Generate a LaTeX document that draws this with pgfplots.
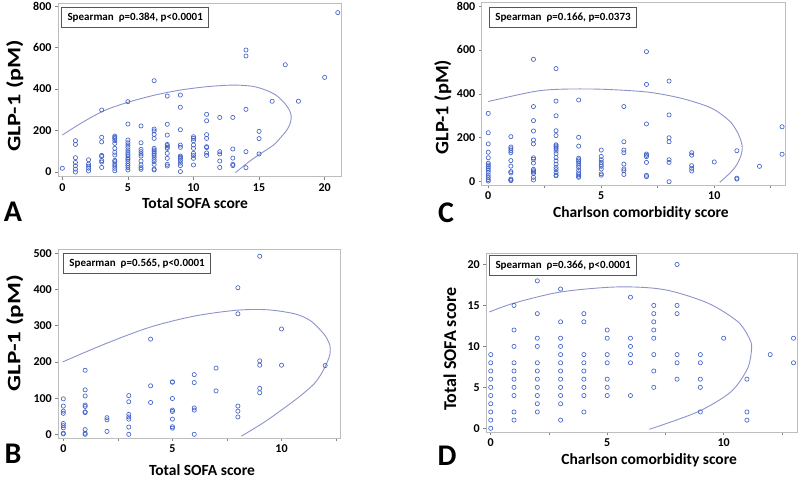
\documentclass[border=0pt]{standalone}
\usepackage{fontspec}
\setmainfont{Carlito}
\usepackage{graphicx}
\usepackage{pgfplots}
\pgfplotsset{compat=1.18}
\definecolor{ptblue}{HTML}{4262C6}
\definecolor{ellcol}{HTML}{8C93CB}
\definecolor{framecol}{HTML}{BDBDBD}
\definecolor{boxcol}{HTML}{555555}
\pgfplotsset{
  panel/.style={
    scale only axis, anchor=south west,
    axis line style={framecol, line width=0.8pt},
    tick style={framecol!70!black, line width=0.6pt},
    tick align=outside, major tick length=3pt, tick pos=left,
    ticklabel style={font=\fontsize{12}{12}\selectfont\bfseries},
    /pgf/number format/assume math mode=true,
    xlabel style={font=\fontsize{15.5}{15.5}\selectfont\bfseries},
    ylabel style={font=\fontsize{19}{19}\selectfont\bfseries},
  },
  pts/.style={only marks, mark=o, mark size=2.1pt, color=ptblue, mark options={line width=0.65pt}},
  ell/.style={no marks, smooth, color=ellcol, line width=0.9pt},
}
\tikzset{spear/.style={draw=boxcol, line width=0.8pt, anchor=north west, inner xsep=6pt, minimum height=20pt, fill=white, font=\fontsize{11}{12}\selectfont\bfseries}}
\begin{document}
\begin{tikzpicture}
\path[use as bounding box] (0pt,0pt) rectangle (800pt,-479pt);
% ---------------- A
\begin{axis}[panel, at={(58pt,-176.7pt)}, width=283.7pt, height=173.7pt,
  xmin=-0.33, xmax=21.3, ymin=-22.6, ymax=814.5,
  xtick={0,5,10,15,20}, ytick={0,200,400,600,800},
  xlabel={Total SOFA score}, ylabel={\scalebox{1.27}[1]{GLP-1 (pM)}},
  x label style={at={(axis description cs:0.483,-0.151)}, anchor=center},
  y label style={at={(axis description cs:-0.152,0.465)}, anchor=center}]
\addplot[pts] coordinates {
(0,18)
(1,151)(1,133)(1,69)(1,46)(1,30)(1,14)(1,0)
(2,59)(2,38)(2,28)(2,18)(2,5)
(3,299)(3,167)(3,145)(3,80)(3,75)(3,55)(3,48)(3,22)
(4,173)(4,167)(4,161)(4,151)(4,138)(4,114)(4,95)(4,82)(4,56)(4,50)(4,39)(4,29)(4,18)(4,6)
(5,339)(5,231)(5,154)(5,141)(5,130)(5,119)(5,106)(5,95)(5,85)(5,77)(5,67)(5,61)(5,51)(5,40)(5,31)(5,21)(5,10)
(6,222)(6,141)(6,109)(6,98)(6,87)(6,77)(6,53)(6,34)(6,21)(6,13)
(7,440)(7,207)(7,198)(7,181)(7,162)(7,114)(7,106)(7,98)(7,90)(7,82)(7,72)(7,61)(7,50)(7,37)(7,14)(7,10)
(8,366)(8,230)(8,178)(8,133)(8,127)(8,119)(8,114)(8,90)(8,66)(8,37)(8,29)
(9,371)(9,312)(9,204)(9,130)(9,119)(9,77)(9,71)(9,66)(9,55)(9,43)(9,31)(9,2)
(10,170)(10,162)(10,151)(10,130)(10,114)(10,90)(10,79)(10,66)(10,34)
(11,278)(11,247)(11,180)(11,162)(11,122)(11,118)(11,92)(11,80)
(12,263)(12,98)(12,87)(12,53)(12,22)
(13,263)(13,111)(13,67)(13,37)(13,31)
(14,588)(14,559)(14,302)(14,98)(14,21)
(15,196)(15,161)(15,87)
(16,341)(17,517)(18,341)(20,456)(21,768)
};
\addplot[ell] coordinates {
(0,178)(1.5,238)(3.2,296)(5,336)(7,370)(9,395)(11,411)(13,419)(14.5,413)(15.5,395)(16.3,370)(16.9,335)(17.3,300)(17.45,270)(17.4,240)(17.15,205)(16.7,170)(16.1,130)(15.1,88)(14.2,48)(13.2,-3)
};
\node[spear] at (rel axis cs:0.011,0.977) {Spearman\ \ ρ=0.384, p<0.0001};
\end{axis}
% ---------------- C
\begin{axis}[panel, at={(481.7pt,-185pt)}, width=303.3pt, height=183pt,
  xmin=-0.29, xmax=13.13, ymin=-15, ymax=818,
  xtick={0,2.5,5,7.5,10,12.5}, xticklabels={0,,5,,10,}, ytick={0,200,400,600,800},
  xlabel={Charlson comorbidity score}, ylabel={\scalebox{1.07}[1]{GLP-1 (pM)}},
  x label style={at={(axis description cs:0.525,-0.153)}, anchor=center},
  y label style={at={(axis description cs:-0.128,0.426)}, anchor=center}]
\addplot[pts] coordinates {
(0,311)(0,223)(0,172)(0,134)(0,109)(0,84)(0,76)(0,69)(0,61)(0,53)(0,43)(0,30)(0,20)(0,10)(0,3)
(1,205)(1,158)(1,150)(1,141)(1,132)(1,96)(1,71)(1,46)(1,40)(1,12)(1,8)(1,5)
(2,557)(2,342)(2,278)(2,231)(2,190)(2,172)(2,109)(2,102)(2,85)(2,56)(2,50)(2,44)(2,38)(2,20)(2,8)
(3,515)(3,367)(3,300)(3,232)(3,210)(3,168)(3,163)(3,158)(3,150)(3,140)(3,128)(3,110)(3,95)(3,80)(3,65)(3,55)(3,42)(3,30)(3,27)
(4,372)(4,202)(4,162)(4,107)(4,100)(4,94)(4,85)(4,75)(4,65)(4,52)(4,40)(4,32)(4,25)(4,20)
(5,144)(5,115)(5,100)(5,88)(5,78)(5,70)(5,58)(5,36)(5,30)
(6,342)(6,182)(6,144)(6,132)(6,80)(6,58)(6,50)(6,33)
(7,592)(7,443)(7,263)(7,126)(7,120)(7,114)(7,88)(7,29)(7,23)
(8,458)(8,304)(8,200)(8,182)(8,100)(8,88)(8,0)
(9,132)(9,121)(9,73)(9,61)(9,49)
(10,90)(11,141)(11,16)(11,12)(12,70)(13,250)(13,125)
};
\addplot[ell] coordinates {
(0,365)(2,410)(3.2,421)(5,421)(7.05,408)(8.53,380)(9.72,342)(10.3,308)(10.76,267)(11.05,220)(11.2,180)(11.24,150)(11.15,110)(10.95,70)(10.65,35)(10.24,-3)
};
\node[spear] at (rel axis cs:0.024,0.973) {Spearman\ \ ρ=0.166, p=0.0373};
\end{axis}
% ---------------- B
\begin{axis}[panel, at={(58.3pt,-438.3pt)}, width=281.7pt, height=189.3pt,
  xmin=-0.23, xmax=12.68, ymin=-11, ymax=512,
  xtick={0,2.5,5,7.5,10,12.5}, xticklabels={0,,5,,10,}, ytick={0,100,200,300,400,500},
  xlabel={Total SOFA score}, ylabel={\scalebox{1.32}[1]{GLP-1 (pM)}},
  x label style={at={(axis description cs:0.510,-0.167)}, anchor=center},
  y label style={at={(axis description cs:-0.154,0.556)}, anchor=center}]
\addplot[pts] coordinates {
(0,98)(0,78)(0,64)(0,58)(0,30)(0,24)(0,18)(0,3)(0,1)
(1,177)(1,123)(1,106)(1,81)(1,77)(1,62)(1,60)(1,13)(1,3)(1,0)
(2,46)(2,40)(2,8)
(3,107)(3,90)(3,55)(3,48)(3,42)(3,20)(3,0)
(4,263)(4,134)(4,88)
(5,145)(5,144)(5,99)(5,67)(5,63)(5,42)(5,21)(5,17)
(6,165)(6,143)(6,73)(6,67)(6,0)
(7,183)(7,120)
(8,405)(8,333)(8,78)(8,64)(8,48)
(9,492)(9,203)(9,191)(9,127)(9,115)
(10,291)(10,191)(12,190)
};
\addplot[ell] coordinates {
(-0.03,200)(1.92,250)(3.97,296)(6.03,327)(7.98,343)(9.37,344)(10.6,333)(11.3,315)(11.75,290)(12.05,268)(12.22,245)(12.22,222)(12.1,200)(11.85,170)(11.5,140)(10.9,108)(10.29,80)(9.22,34)(8.16,-5)
};
\node[spear] at (rel axis cs:0.017,0.979) {Spearman\ \ ρ=0.565, p<0.0001};
\end{axis}
% ---------------- D
\begin{axis}[panel, at={(486.3pt,-432pt)}, width=310.7pt, height=179pt,
  xmin=-0.19, xmax=13.15, ymin=-0.45, ymax=21.4,
  xtick={0,2.5,5,7.5,10,12.5}, xticklabels={0,,5,,10,}, ytick={0,5,10,15,20},
  xlabel={Charlson comorbidity score}, ylabel={Total SOFA score},
  ylabel style={font=\fontsize{18}{18}\selectfont\bfseries},
  x label style={at={(axis description cs:0.524,-0.156)}, anchor=center},
  y label style={at={(axis description cs:-0.117,0.464)}, anchor=center}]
\addplot[pts] coordinates {
(0,0)(0,1)(0,2)(0,3)(0,4)(0,5)(0,6)(0,7)(0,8)(0,9)
(1,15)(1,12)(1,10)(1,8)(1,7)(1,6)(1,5)(1,4)(1,2)(1,1)
(2,18)(2,14)(2,11)(2,10)(2,8)(2,7)(2,6)(2,5)(2,4)(2,3)(2,2)
(3,17)(3,13)(3,11)(3,10)(3,9)(3,8)(3,7)(3,6)(3,5)(3,4)(3,3)(3,1)
(4,14)(4,13)(4,9)(4,8)(4,7)(4,6)(4,5)(4,4)(4,2)
(5,12)(5,11)(5,9)(5,8)(5,6)(5,5)(5,4)
(6,16)(6,11)(6,10)(6,9)(6,8)(6,4)
(7,15)(7,14)(7,13)(7,12)(7,11)(7,9)(7,7)(7,5)
(8,20)(8,15)(8,14)(8,9)(8,8)(8,6)
(9,9)(9,8)(9,6)(9,5)(9,2)
(10,11)(11,6)(11,2)(11,1)(12,9)(13,11)(13,8)
};
\addplot[ell] coordinates {
(-0.06,14.2)(1.02,15.3)(3.02,16.65)(5.45,17.26)(7.45,16.93)(9.31,15.3)(10.6,13.04)(11.1,11.0)(11.2,9.78)(11.03,7.32)(10.31,4.45)(8.88,2.0)(6.81,-0.12)
};
\node[spear] at (rel axis cs:0.009,0.989) {Spearman\ \ ρ=0.366, p<0.0001};
\end{axis}
% panel letters
\node[font=\fontsize{30}{30}\selectfont\bfseries] at (13pt,-212pt) {A};
\node[font=\fontsize{30}{30}\selectfont\bfseries] at (13pt,-454pt) {B};
\node[font=\fontsize{30}{30}\selectfont\bfseries] at (446pt,-213pt) {C};
\node[font=\fontsize{30}{30}\selectfont\bfseries] at (447pt,-456pt) {D};
\end{tikzpicture}
\end{document}
